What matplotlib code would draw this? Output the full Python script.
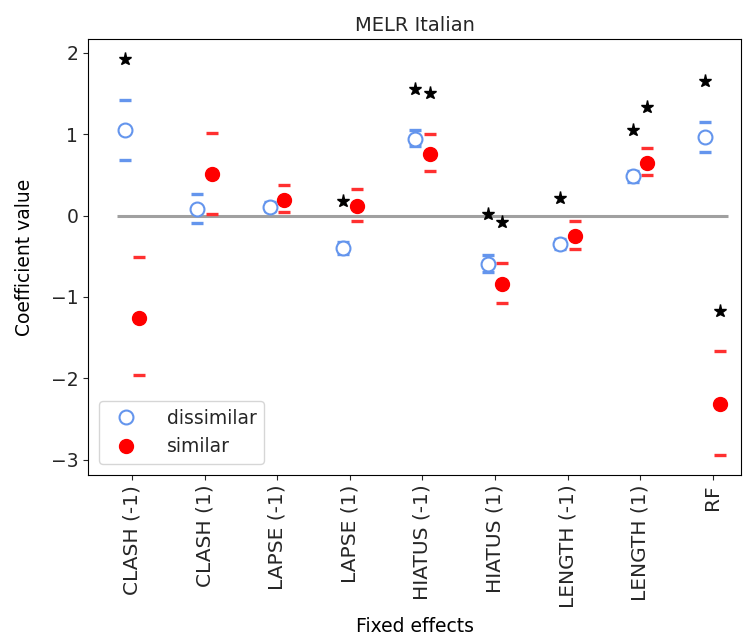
import matplotlib
matplotlib.use("Agg")
import matplotlib.pyplot as plt
import numpy as np

categories = ["CLASH (-1)", "CLASH (1)", "LAPSE (-1)", "LAPSE (1)", "HIATUS (-1)",
              "HIATUS (1)", "LENGTH (-1)", "LENGTH (1)", "RF"]

dis_coef = [1.05, 0.08, 0.11, -0.40, 0.94, -0.59, -0.35, 0.48, 0.96]
dis_upper = [1.42, 0.26, 0.17, -0.32, 1.05, -0.48, -0.29, 0.55, 1.15]
dis_lower = [0.68, -0.09, 0.05, -0.47, 0.85, -0.70, -0.41, 0.41, 0.78]
dis_sig = [True, False, False, True, True, True, True, True, True]

sim_coef = [-1.26, 0.51, 0.19, 0.12, 0.76, -0.84, -0.25, 0.64, -2.32]
sim_upper = [-0.51, 1.02, 0.38, 0.33, 1.00, -0.58, -0.07, 0.83, -1.67]
sim_lower = [-1.96, 0.02, 0.04, -0.07, 0.55, -1.08, -0.41, 0.50, -2.95]
sim_sig = [False, False, False, False, True, True, False, True, True]

plt.rcParams['font.size'] = 13.5
plt.rcParams['text.color'] = '#262626'
plt.rcParams['xtick.color'] = '#262626'
plt.rcParams['ytick.color'] = '#262626'
fig = plt.figure(figsize=(7.51, 6.42), dpi=100)
ax = fig.add_axes([0.1172, 0.2601, 0.8695, 0.6792])

x = np.arange(len(categories))
off = 0.1
blue = "cornflowerblue"
red = "red"

ax.hlines(0, -0.21, 8.21, color="#a0a0a0", lw=2.2, zorder=1)

ax.plot(x - off, dis_coef, "o", mfc="white", mec=blue, mew=1.5, ms=10, ls="none", label="dissimilar", zorder=3)
ax.plot(x - off, dis_upper, "_", color=blue, ms=9, mew=2.4, ls="none", zorder=2)
ax.plot(x - off, dis_lower, "_", color=blue, ms=9, mew=2.4, ls="none", zorder=2)

ax.plot(x + off, sim_coef, "o", color=red, ms=10, ls="none", label="similar", zorder=3)
ax.plot(x + off, sim_upper, "_", color="#ff3030", ms=9, mew=2.4, ls="none", zorder=2)
ax.plot(x + off, sim_lower, "_", color="#ff3030", ms=9, mew=2.4, ls="none", zorder=2)

star_gap = 0.5
for i in range(len(categories)):
    if dis_sig[i]:
        ax.plot(x[i] - off, dis_upper[i] + star_gap, "*", color="black", ms=9.5, zorder=4)
    if sim_sig[i]:
        ax.plot(x[i] + off, sim_upper[i] + star_gap, "*", color="black", ms=9.5, zorder=4)

ax.set_xticks(x)
ax.set_xticklabels(categories, rotation=90, fontsize=14.5)
ax.set_xlim(-0.606, 8.39)
ax.set_ylim(-3.19, 2.17)
ax.set_yticks([-3, -2, -1, 0, 1, 2])
ax.set_xlabel("Fixed effects", labelpad=6)
ax.set_ylabel("Coefficient value", labelpad=12)
ax.set_title("MELR Italian", fontsize=14)
ax.legend(loc="lower left", handletextpad=1.2, borderaxespad=0.6)

fig.savefig("out.png", dpi=100)
